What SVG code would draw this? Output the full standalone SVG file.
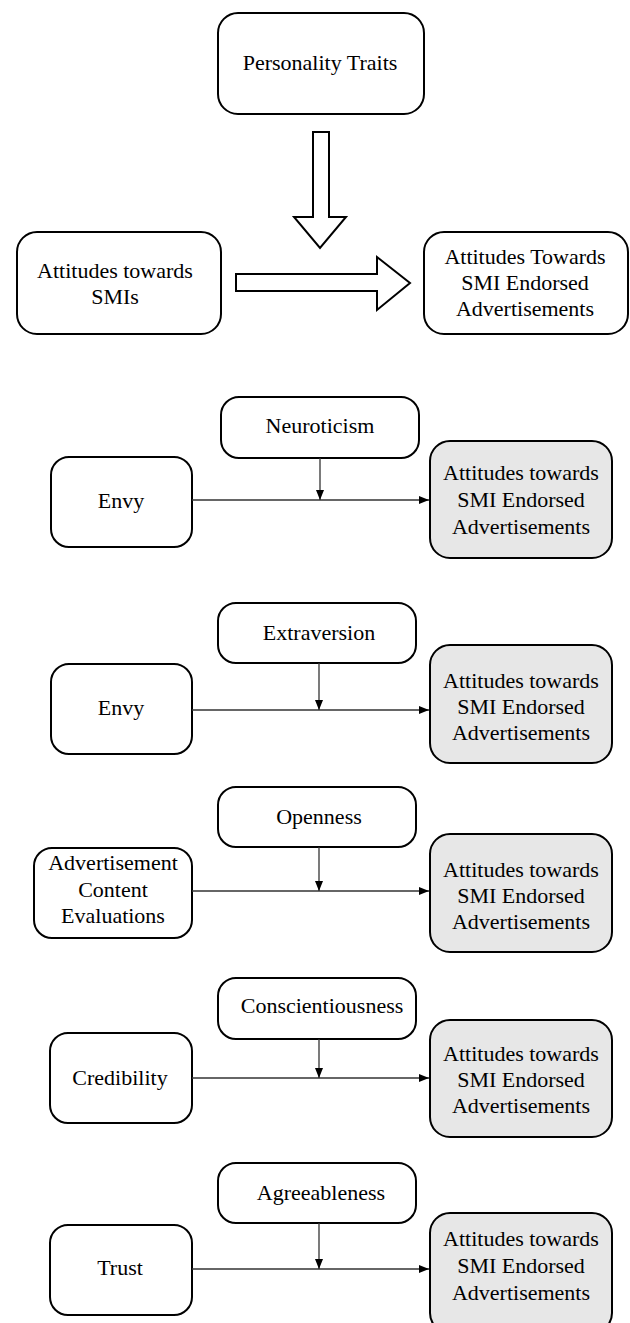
<svg xmlns="http://www.w3.org/2000/svg" width="630" height="1323" viewBox="0 0 630 1323">
<style>
.box{fill:#fff;stroke:#000;stroke-width:2}
.dv{fill:#e7e7e7;stroke:#000;stroke-width:2}
.blk{fill:#fff;stroke:#000;stroke-width:2;stroke-linejoin:miter}
.t{font-family:"Liberation Serif","Times New Roman",serif;font-size:22px;fill:#000;text-anchor:middle}
.c{stroke:#333;stroke-width:1.3;fill:none}
</style>
<defs>
<marker id="ah" viewBox="0 0 10 8" refX="10" refY="4" markerWidth="10" markerHeight="8" markerUnits="userSpaceOnUse" orient="auto">
<path d="M0,0 L10,4 L0,8 z" fill="#000"/>
</marker>
</defs>
<rect width="630" height="1323" fill="#fff"/>

<g id="top-personality">
<rect class="box" x="218" y="13" width="206" height="101" rx="20"/>
<text class="t" x="320" y="70">Personality Traits</text>
</g>
<g id="top-smis">
<rect class="box" x="17" y="232" width="204" height="102" rx="20"/>
<text class="t" x="115" y="278">Attitudes towards</text>
<text class="t" x="115" y="304">SMIs</text>
</g>
<g id="top-ads">
<rect class="box" x="424" y="232" width="204" height="102" rx="20"/>
<text class="t" x="525" y="264">Attitudes Towards</text>
<text class="t" x="525" y="290">SMI Endorsed</text>
<text class="t" x="525" y="316">Advertisements</text>
</g>
<g id="top-arrows">
<path class="blk" d="M313,132 L329,132 L329,217 L346,217 L320,248 L294,217 L313,217 Z"/>
<path class="blk" d="M236,274 L377,274 L377,257 L410,283 L377,310 L377,291 L236,291 Z"/>
</g>

<g id="n-mod">
<rect class="box" x="221" y="397" width="198" height="61" rx="18"/>
<text class="t" x="320" y="433">Neuroticism</text>
</g>
<g id="n-iv">
<rect class="box" x="51" y="457" width="141" height="90" rx="18"/>
<text class="t" x="121" y="508">Envy</text>
</g>
<g id="n-dv">
<rect class="dv" x="430" y="441" width="182" height="117" rx="20"/>
<text class="t" x="521" y="480">Attitudes towards</text>
<text class="t" x="521" y="507">SMI Endorsed</text>
<text class="t" x="521" y="534">Advertisements</text>
</g>

<g id="e-mod">
<rect class="box" x="218" y="603" width="198" height="60" rx="18"/>
<text class="t" x="319" y="640">Extraversion</text>
</g>
<g id="e-iv">
<rect class="box" x="51" y="664" width="141" height="90" rx="18"/>
<text class="t" x="121" y="715">Envy</text>
</g>
<g id="e-dv">
<rect class="dv" x="430" y="645" width="182" height="118" rx="20"/>
<text class="t" x="521" y="688">Attitudes towards</text>
<text class="t" x="521" y="714">SMI Endorsed</text>
<text class="t" x="521" y="740">Advertisements</text>
</g>

<g id="o-mod">
<rect class="box" x="218" y="787" width="198" height="60" rx="18"/>
<text class="t" x="319" y="824">Openness</text>
</g>
<g id="o-iv">
<rect class="box" x="34" y="848" width="158" height="90" rx="18"/>
<text class="t" x="113" y="870">Advertisement</text>
<text class="t" x="113" y="897">Content</text>
<text class="t" x="113" y="923">Evaluations</text>
</g>
<g id="o-dv">
<rect class="dv" x="430" y="834" width="182" height="118" rx="20"/>
<text class="t" x="521" y="877">Attitudes towards</text>
<text class="t" x="521" y="903">SMI Endorsed</text>
<text class="t" x="521" y="929">Advertisements</text>
</g>

<g id="c-mod">
<rect class="box" x="218" y="978" width="198" height="61" rx="18"/>
<text class="t" x="322" y="1013">Conscientiousness</text>
</g>
<g id="c-iv">
<rect class="box" x="50" y="1033" width="142" height="90" rx="18"/>
<text class="t" x="120" y="1085">Credibility</text>
</g>
<g id="c-dv">
<rect class="dv" x="430" y="1020" width="182" height="117" rx="20"/>
<text class="t" x="521" y="1061">Attitudes towards</text>
<text class="t" x="521" y="1087">SMI Endorsed</text>
<text class="t" x="521" y="1113">Advertisements</text>
</g>

<g id="a-mod">
<rect class="box" x="218" y="1163" width="198" height="60" rx="18"/>
<text class="t" x="321" y="1200">Agreeableness</text>
</g>
<g id="a-iv">
<rect class="box" x="50" y="1225" width="142" height="90" rx="18"/>
<text class="t" x="120" y="1275">Trust</text>
</g>
<g id="a-dv">
<rect class="dv" x="430" y="1213" width="182" height="120" rx="20"/>
<text class="t" x="521" y="1246">Attitudes towards</text>
<text class="t" x="521" y="1273">SMI Endorsed</text>
<text class="t" x="521" y="1300">Advertisements</text>
</g>

<g id="connectors">
<line class="c" x1="192" y1="500" x2="429" y2="500" marker-end="url(#ah)"/>
<line class="c" x1="320" y1="458" x2="320" y2="500" marker-end="url(#ah)"/>
<line class="c" x1="192" y1="710" x2="429" y2="710" marker-end="url(#ah)"/>
<line class="c" x1="319" y1="663" x2="319" y2="710" marker-end="url(#ah)"/>
<line class="c" x1="192" y1="891" x2="429" y2="891" marker-end="url(#ah)"/>
<line class="c" x1="319" y1="847" x2="319" y2="891" marker-end="url(#ah)"/>
<line class="c" x1="192" y1="1078" x2="429" y2="1078" marker-end="url(#ah)"/>
<line class="c" x1="319" y1="1039" x2="319" y2="1078" marker-end="url(#ah)"/>
<line class="c" x1="192" y1="1269" x2="429" y2="1269" marker-end="url(#ah)"/>
<line class="c" x1="319" y1="1223" x2="319" y2="1269" marker-end="url(#ah)"/>
</g>
</svg>
